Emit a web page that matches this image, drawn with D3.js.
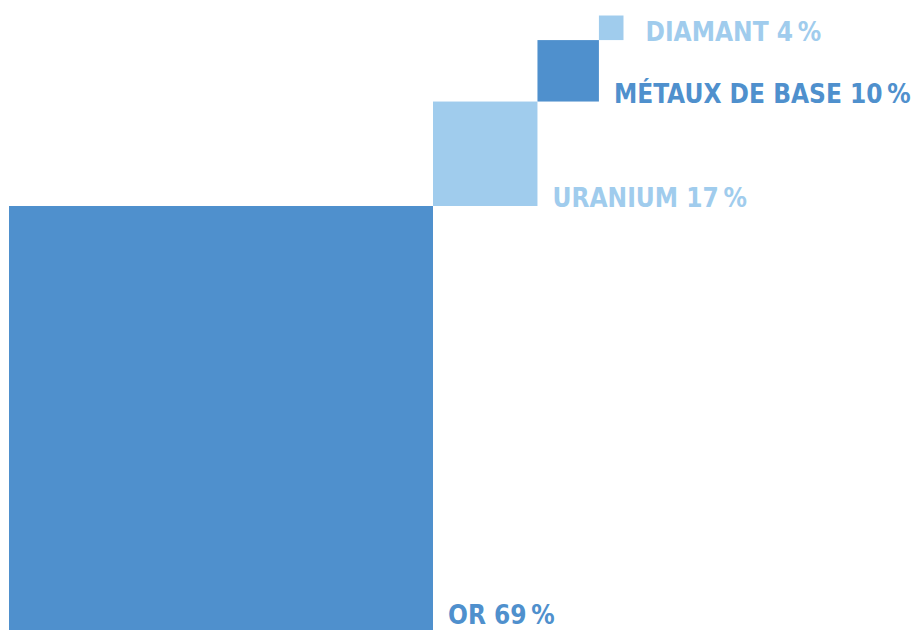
<!DOCTYPE html>
<html>
<head>
<meta charset="utf-8">
<script src="https://cdn.jsdelivr.net/npm/d3@7"></script>
<style>
  html, body { margin: 0; padding: 0; background: #ffffff; }
  svg { display: block; }
  .lbl { font-family: "DejaVu Sans Condensed", "DejaVu Sans", sans-serif; font-weight: bold; font-stretch: condensed; }
</style>
</head>
<body>
<div id="chart"></div>
<script>
// Share of production by resource (%)
const categories = ["OR", "URANIUM", "MÉTAUX DE BASE", "DIAMANT"];
const values = [69, 17, 10, 4];
const colors = ["#4f90cd", "#a0cced", "#4f90cd", "#a0cced"];

const width = 917, height = 631;
const originX = 9, originY = 630;

const svg = d3.select("#chart").append("svg")
  .attr("width", width)
  .attr("height", height);

// Square side is proportional to the share
const side = d3.scaleLinear().domain([0, 69]).range([0, 424]);

// Stack squares diagonally: each starts at the previous one's top-right corner
let x = originX, y = originY;
const items = categories.map((c, i) => {
  const s = side(values[i]);
  const d = { name: c, value: values[i], color: colors[i], x: x, y: y - s, s: s };
  x += s; y -= s;
  return d;
});

svg.selectAll("rect.sq")
  .data(items)
  .join("rect")
  .attr("class", "sq")
  .attr("x", d => d.x)
  .attr("y", d => d.y)
  .attr("width", d => d.s)
  .attr("height", d => d.s)
  .attr("fill", d => d.color);

// Labels sit to the right of each square, on its bottom edge
svg.selectAll("text.lbl")
  .data(items)
  .join("text")
  .attr("class", "lbl")
  .attr("x", (d, i) => d.x + d.s + (i === 3 ? 22 : 15))
  .attr("y", d => Math.min(d.y + d.s + 1, height - 7))
  .attr("fill", d => d.color)
  .attr("font-size", 26)
  .text(d => `${d.name} ${d.value}\u2009%`);
</script>
</body>
</html>
